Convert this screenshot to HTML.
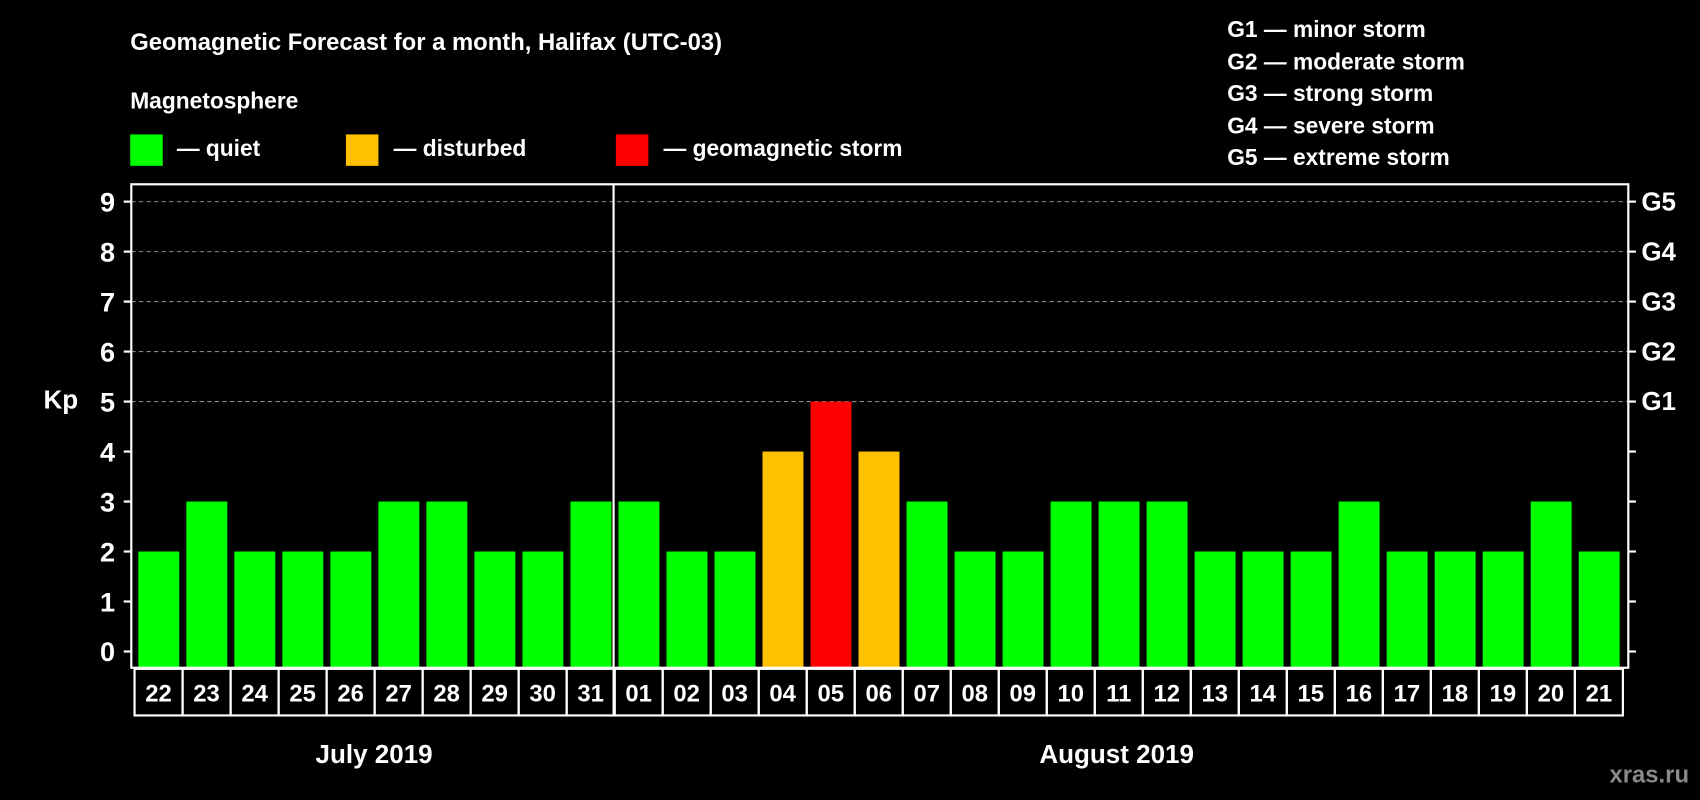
<!DOCTYPE html>
<html><head><meta charset="utf-8"><style>
html,body{margin:0;padding:0;background:#000;width:1700px;height:800px;overflow:hidden}
svg{display:block}
text{font-family:"Liberation Sans",Arial,sans-serif;font-weight:bold;fill:#fff}
</style></head><body>
<svg id="chart" width="1700" height="800" viewBox="0 0 1568 738" xmlns="http://www.w3.org/2000/svg">
<rect x="0" y="0" width="1568" height="738" fill="#000"/>
<text x="120" y="46" font-size="22">Geomagnetic Forecast for a month, Halifax (UTC-03)</text>
<text x="120" y="100" font-size="21">Magnetosphere</text>
<rect x="120" y="124" width="30" height="29" fill="#00ff00"/>
<text x="163" y="144" font-size="21">— quiet</text>
<rect x="319" y="124" width="30" height="29" fill="#ffc000"/>
<text x="363" y="144" font-size="21">— disturbed</text>
<rect x="568" y="124" width="30" height="29" fill="#ff0000"/>
<text x="612" y="144" font-size="21">— geomagnetic storm</text>
<text x="1132" y="34" font-size="21">G1 — minor storm</text>
<text x="1132" y="64" font-size="21">G2 — moderate storm</text>
<text x="1132" y="93" font-size="21">G3 — strong storm</text>
<text x="1132" y="123" font-size="21">G4 — severe storm</text>
<text x="1132" y="152" font-size="21">G5 — extreme storm</text>
<text x="40" y="377" font-size="24">Kp</text>
<g id="grid"></g>
<g id="bars"></g>
<rect x="121" y="170" width="1381" height="446" fill="none" stroke="#fff" stroke-width="2"/>
<g id="axes"></g>
<text x="345" y="704" font-size="24" text-anchor="middle">July 2019</text>
<text x="1030" y="704" font-size="24" text-anchor="middle">August 2019</text>
<text x="1558" y="722" font-size="22" text-anchor="end" style="fill:#8a8a8a">xras.ru</text>
</svg>
<script>
const days = ["22","23","24","25","26","27","28","29","30","31","01","02","03","04","05","06","07","08","09","10","11","12","13","14","15","16","17","18","19","20","21"];
const kpValues = [2,3,2,2,2,3,3,2,2,3,3,2,2,4,5,4,3,2,2,3,3,3,2,2,2,3,2,2,2,3,2];
const yTicks = [0,1,2,3,4,5,6,7,8,9];
const gLabels = ["G1","G2","G3","G4","G5"];
const gLevels = [5,6,7,8,9];
const monthSplitIndex = 10;

const NS = "http://www.w3.org/2000/svg";
const x0 = 124, pitch = (1497 - 124) / days.length;
function yScale(v){ return 601 - v * (601 - 186) / 9; }
function xScale(i){ return x0 + i * pitch; }
function colorFor(v){ return v >= 5 ? "#ff0000" : (v >= 4 ? "#ffc000" : "#00ff00"); }
function mk(tag, attrs, parent){ const e = document.createElementNS(NS, tag); for (const k in attrs) e.setAttribute(k, attrs[k]); parent.appendChild(e); return e; }

const grid = document.getElementById("grid");
const bars = document.getElementById("bars");
const axes = document.getElementById("axes");

gLevels.forEach((lv, j) => {
  const y = yScale(lv);
  const ln = mk("line", {x1:121, x2:1502, y1:y, y2:y, stroke:"#888", "stroke-dasharray":"4,3", "stroke-width":1}, grid);
  
  
  const t = mk("text", {x:1514, y:y + 8, "font-size":24}, axes);
  t.textContent = gLabels[j];
  
  
});

kpValues.forEach((v, i) => {
  const x = xScale(i) + 3.5;
  const r = mk("rect", {x:x, y:yScale(v), width:pitch - 6.5, height:616 - yScale(v), fill:colorFor(v)}, bars);
  
  
});

yTicks.forEach(v => {
  const y = yScale(v);
  const tk = mk("line", {x1:114, x2:121, y1:y, y2:y, stroke:"#fff", "stroke-width":2}, axes);
  
  
  const tr = mk("line", {x1:1502, x2:1509, y1:y, y2:y, stroke:"#fff", "stroke-width":2}, axes);
  
  
  const t = mk("text", {x:106, y:y + 9, "font-size":25, "text-anchor":"end"}, axes);
  t.textContent = v;
  
  
});

// separator between months
const sx = xScale(monthSplitIndex) - 1;
const sep = mk("line", {x1:sx, x2:sx, y1:170, y2:660, stroke:"#fff", "stroke-width":2}, axes);



days.forEach((d, i) => {
  const x = xScale(i);
  const b = mk("rect", {x:x, y:617, width:pitch, height:43, fill:"none", stroke:"#fff", "stroke-width":2}, axes);
  
  
  const t = mk("text", {x:x + pitch / 2, y:647, "font-size":22, "text-anchor":"middle"}, axes);
  t.textContent = d;
  
  
});
</script>
</body></html>
